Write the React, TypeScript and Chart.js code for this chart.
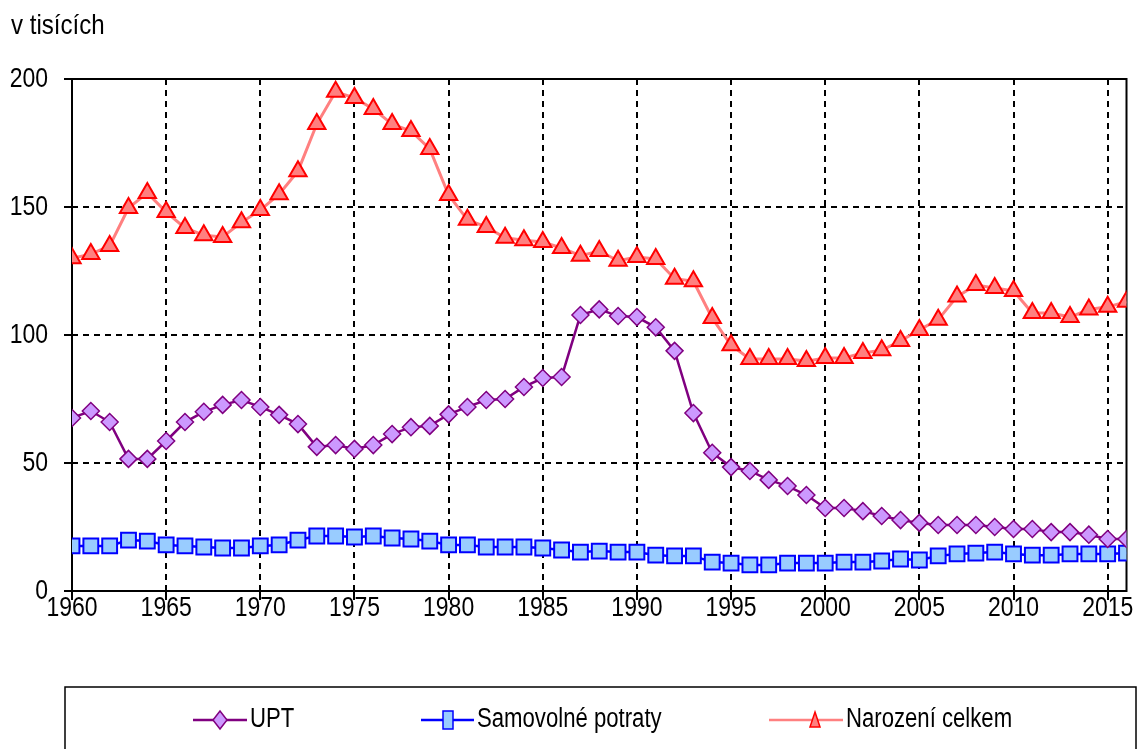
import React, { useEffect, useRef } from "react";
import { Chart, registerables } from "chart.js";

Chart.register(...registerables);

const years = [
  1960, 1961, 1962, 1963, 1964, 1965, 1966, 1967, 1968, 1969,
  1970, 1971, 1972, 1973, 1974, 1975, 1976, 1977, 1978, 1979,
  1980, 1981, 1982, 1983, 1984, 1985, 1986, 1987, 1988, 1989,
  1990, 1991, 1992, 1993, 1994, 1995, 1996, 1997, 1998, 1999,
  2000, 2001, 2002, 2003, 2004, 2005, 2006, 2007, 2008, 2009,
  2010, 2011, 2012, 2013, 2014, 2015, 2016,
];

const upt = [
  67.6, 70.3, 66.0, 51.6, 51.6, 58.6, 66.0, 70.0, 72.7, 74.6,
  71.9, 68.8, 65.2, 56.3, 57.0, 55.5, 57.0, 61.3, 64.0, 64.5,
  69.0, 71.9, 74.6, 75.0, 79.7, 83.2, 83.6, 107.8, 110.0, 107.4,
  107.0, 103.0, 93.8, 69.5, 54.0, 48.4, 46.9, 43.4, 41.0, 37.5,
  32.4, 32.4, 31.2, 29.3, 27.7, 26.6, 25.8, 25.8, 25.8, 25.0,
  24.2, 24.2, 23.0, 23.0, 22.0, 20.3, 20.3,
];

const spontaneous = [
  17.6, 17.6, 17.6, 19.9, 19.5, 18.0, 17.6, 17.2, 16.8, 16.8,
  17.6, 18.0, 19.9, 21.5, 21.5, 21.1, 21.5, 20.7, 20.3, 19.5,
  18.0, 18.0, 17.2, 17.2, 17.2, 16.8, 16.0, 15.2, 15.6, 15.2,
  15.2, 14.0, 13.7, 13.7, 11.3, 10.9, 10.2, 10.2, 10.9, 10.9,
  10.9, 11.3, 11.3, 11.7, 12.5, 12.1, 13.7, 14.5, 14.8, 15.2,
  14.5, 14.0, 14.0, 14.5, 14.5, 14.5, 14.8,
];

const births = [
  130.0, 131.6, 134.8, 149.6, 155.5, 148.0, 141.8, 139.0, 138.3, 144.0,
  148.8, 155.0, 164.0, 182.4, 195.0, 192.6, 188.3, 182.4, 179.7, 172.7,
  154.7, 145.0, 142.2, 138.0, 137.0, 136.3, 134.0, 131.0, 132.8, 129.0,
  130.5, 129.7, 122.0, 121.0, 106.6, 96.0, 90.6, 90.6, 90.6, 89.8,
  91.0, 91.0, 93.0, 94.0, 97.7, 102.0, 106.0, 115.0, 119.5, 118.4,
  117.2, 108.6, 108.6, 107.0, 110.0, 111.0, 113.0,
];

const xTickValues = [1960, 1965, 1970, 1975, 1980, 1985, 1990, 1995, 2000, 2005, 2010, 2015];
const yTickValues = [0, 50, 100, 150, 200];

const seriesNames = ["UPT", "Samovolné potraty", "Narození celkem"];
const yTitle = "v tisících";

const FONT = "'Liberation Sans', Arial, 'DejaVu Sans', sans-serif";
const NARROW = 0.82;

const toPoints = (vals: number[]) => years.map((y, i) => ({ x: y, y: vals[i] }));

function narrowText(
  ctx: CanvasRenderingContext2D,
  text: string,
  x: number,
  y: number,
  align: CanvasTextAlign,
  size: number,
  squeeze = NARROW
) {
  ctx.save();
  ctx.font = `${size}px ${FONT}`;
  ctx.fillStyle = "#000";
  ctx.textBaseline = "middle";
  ctx.textAlign = align;
  ctx.translate(x, y);
  ctx.scale(squeeze, 1);
  ctx.fillText(text, 0, 0);
  ctx.restore();
}

const framePlugin = {
  id: "frame",
  beforeDatasetsDraw(chart: any) {
    const { ctx, chartArea } = chart;
    ctx.save();
    ctx.strokeStyle = "#000";
    ctx.lineWidth = 2;
    ctx.setLineDash([]);
    ctx.strokeRect(chartArea.left, chartArea.top, chartArea.right - chartArea.left, chartArea.bottom - chartArea.top);
    ctx.restore();
  },
  afterDraw(chart: any) {
    const ctx = chart.ctx as CanvasRenderingContext2D;
    const xs = chart.scales.x;
    const ys = chart.scales.y;

    // tick labels (narrow font, positioned by the chart's scales)
    xs.ticks.forEach((t: any) => {
      narrowText(ctx, String(t.value), xs.getPixelForValue(t.value), 608, "center", 28);
    });
    ys.ticks.forEach((t: any) => {
      narrowText(ctx, String(t.value), 48, ys.getPixelForValue(t.value), "right", 28);
    });

    // axis title
    narrowText(ctx, yTitle, 11, 26, "left", 28, 0.86);

    ctx.save();
    // legend box
    ctx.strokeStyle = "#000";
    ctx.lineWidth = 1.5;
    ctx.strokeRect(65, 687, 1071, 90);

    const ly = 720;
    const drawLine = (x1: number, x2: number, color: string, w: number) => {
      ctx.beginPath();
      ctx.strokeStyle = color;
      ctx.lineWidth = w;
      ctx.moveTo(x1, ly);
      ctx.lineTo(x2, ly);
      ctx.stroke();
    };
    // UPT
    drawLine(193, 247, "#800080", 2.5);
    ctx.beginPath();
    ctx.moveTo(220, ly - 9);
    ctx.lineTo(227, ly);
    ctx.lineTo(220, ly + 9);
    ctx.lineTo(213, ly);
    ctx.closePath();
    ctx.fillStyle = "#CC99FF";
    ctx.fill();
    ctx.strokeStyle = "#800080";
    ctx.lineWidth = 1.5;
    ctx.stroke();
    // Samovolne
    drawLine(421, 474, "#0000FF", 2.5);
    ctx.fillStyle = "#99CCFF";
    ctx.fillRect(443, ly - 9, 10, 18);
    ctx.strokeStyle = "#0000FF";
    ctx.lineWidth = 1.5;
    ctx.strokeRect(443, ly - 9, 10, 18);
    // Narozeni
    drawLine(769, 843, "#FF8080", 2.5);
    ctx.beginPath();
    ctx.moveTo(815, ly - 8);
    ctx.lineTo(820, ly + 7);
    ctx.lineTo(810, ly + 7);
    ctx.closePath();
    ctx.fillStyle = "#FF8080";
    ctx.fill();
    ctx.strokeStyle = "#FF0000";
    ctx.lineWidth = 1.5;
    ctx.stroke();
    ctx.restore();

    narrowText(ctx, seriesNames[0], 250, ly, "left", 27);
    narrowText(ctx, seriesNames[1], 477, ly, "left", 27);
    narrowText(ctx, seriesNames[2], 846, ly, "left", 27);
  },
};

export default function App() {
  const ref = useRef<HTMLCanvasElement | null>(null);

  useEffect(() => {
    if (!ref.current) return;
    const gridCommon = {
      color: "#000",
      lineWidth: 2,
      tickColor: "#000",
      tickWidth: 2,
      tickBorderDash: [],
    };
    const chart = new Chart(ref.current, {
      type: "line",
      data: {
        datasets: [
          {
            label: seriesNames[0],
            data: toPoints(upt),
            borderColor: "#800080",
            borderWidth: 2.5,
            backgroundColor: "#CC99FF",
            pointStyle: "rectRot",
            pointRadius: 8.5,
            pointBorderWidth: 1.5,
            pointBorderColor: "#800080",
            pointBackgroundColor: "#CC99FF",
            tension: 0,
          },
          {
            label: seriesNames[1],
            data: toPoints(spontaneous),
            borderColor: "#0000FF",
            borderWidth: 2.5,
            backgroundColor: "#99CCFF",
            pointStyle: "rect",
            pointRadius: 10.5,
            pointBorderWidth: 2,
            pointBorderColor: "#0000FF",
            pointBackgroundColor: "#99CCFF",
            tension: 0,
          },
          {
            label: seriesNames[2],
            data: toPoints(births),
            borderColor: "#FF8080",
            borderWidth: 3,
            backgroundColor: "#FF8080",
            pointStyle: "triangle",
            pointRadius: 10,
            pointBorderWidth: 2,
            pointBorderColor: "#FF0000",
            pointBackgroundColor: "#FF8080",
            tension: 0,
          },
        ],
      },
      options: {
        animation: false,
        responsive: false,
        layout: { padding: { left: 0, top: 79, right: 8, bottom: 98 } },
        plugins: {
          legend: { display: false },
          tooltip: { enabled: false },
        },
        scales: {
          x: {
            type: "linear",
            min: 1960,
            max: 2016,
            afterBuildTicks(scale: any) {
              scale.ticks = xTickValues.map((v) => ({ value: v }));
            },
            afterFit(scale: any) {
              scale.height = 60;
            },
            border: { display: false, dash: [6, 5] },
            grid: { ...gridCommon, tickLength: 9 },
            ticks: { display: false },
          },
          y: {
            type: "linear",
            min: 0,
            max: 200,
            afterBuildTicks(scale: any) {
              scale.ticks = yTickValues.map((v) => ({ value: v }));
            },
            afterFit(scale: any) {
              scale.width = 72;
            },
            border: { display: false, dash: [6, 5] },
            grid: { ...gridCommon, tickLength: 8 },
            ticks: { display: false },
          },
        },
      },
      plugins: [framePlugin],
    } as any);
    return () => chart.destroy();
  }, []);

  return (
    <div style={{ position: "absolute", left: 0, top: 0, width: 1139, height: 749, background: "#fff" }}>
      <canvas ref={ref} width={1139} height={749} style={{ width: 1139, height: 749 }} />
    </div>
  );
}
